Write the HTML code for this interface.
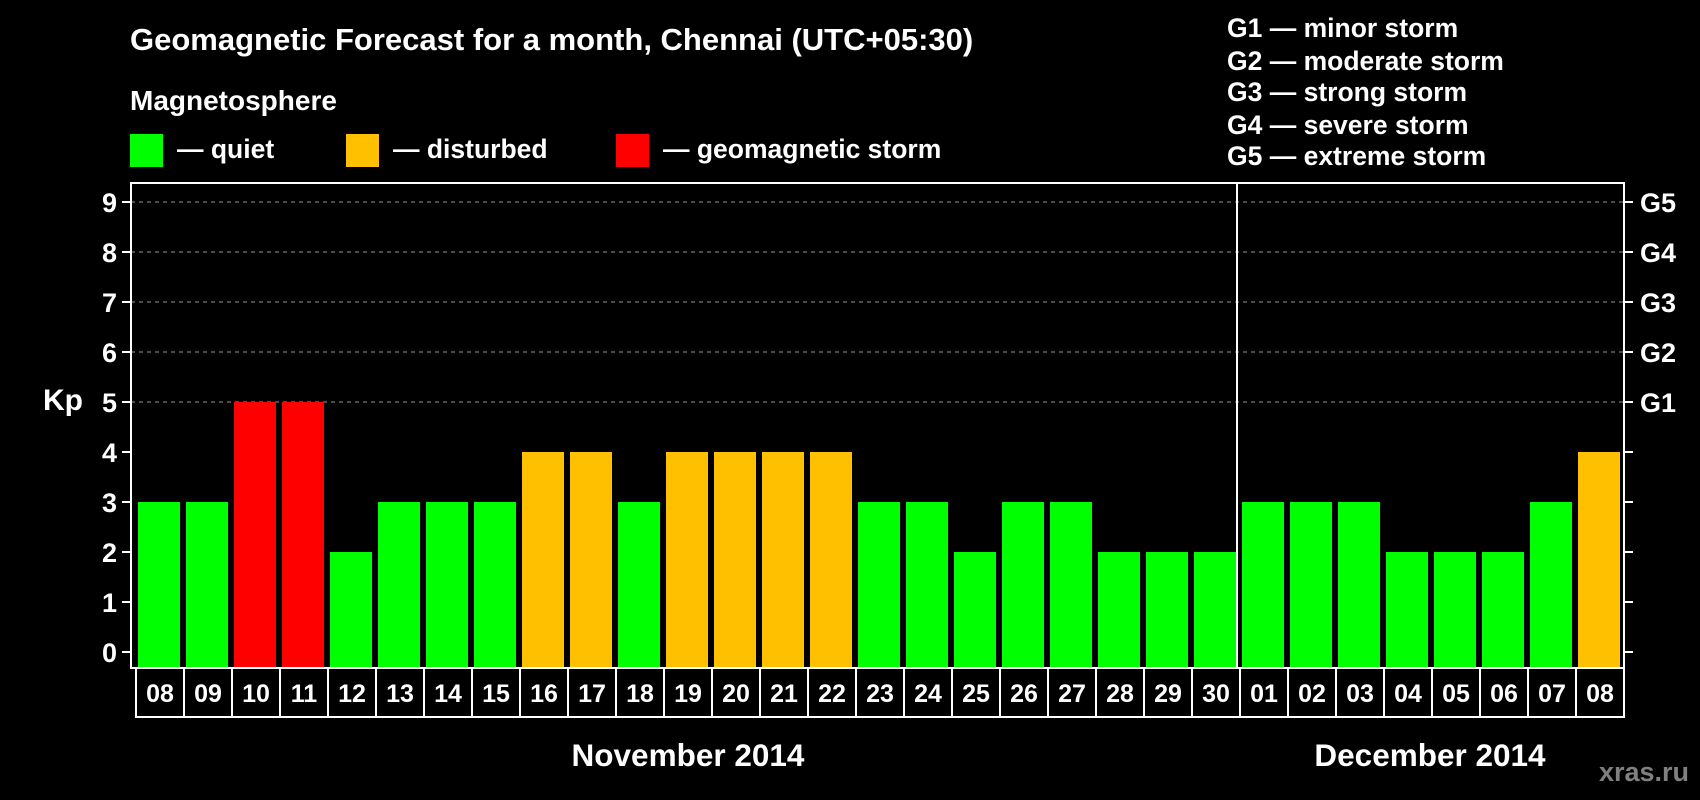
<!DOCTYPE html>
<html><head><meta charset="utf-8"><style>
html,body{margin:0;padding:0;background:#000;}
svg{display:block;font-family:"Liberation Sans",Arial,sans-serif;font-weight:bold;}
</style></head><body>
<svg id="chart" width="1700" height="800" viewBox="0 0 1700 800">
<rect width="1700" height="800" fill="#000"/>
<text x="130" y="50" fill="#fff" font-size="31">Geomagnetic Forecast for a month, Chennai (UTC+05:30)</text>
<text x="130" y="110" fill="#fff" font-size="28">Magnetosphere</text>
<rect x="130" y="134" width="33" height="33" fill="#00ff00"/>
<text x="177" y="158" fill="#fff" font-size="26.5">— quiet</text>
<rect x="346" y="134" width="33" height="33" fill="#ffc000"/>
<text x="393" y="158" fill="#fff" font-size="26.5">— disturbed</text>
<rect x="616" y="134" width="33" height="33" fill="#ff0000"/>
<text x="663" y="158" fill="#fff" font-size="26.5">— geomagnetic storm</text>
<g fill="#fff" font-size="26.5">
<text x="1227" y="37">G1 — minor storm</text>
<text x="1227" y="70">G2 — moderate storm</text>
<text x="1227" y="101">G3 — strong storm</text>
<text x="1227" y="134">G4 — severe storm</text>
<text x="1227" y="165">G5 — extreme storm</text>
</g>
<text x="43" y="410" fill="#fff" font-size="30">Kp</text>
<text x="688" y="766" fill="#fff" font-size="31.5" text-anchor="middle">November 2014</text>
<text x="1430" y="766" fill="#fff" font-size="31.5" text-anchor="middle">December 2014</text>
<text x="1689" y="781" fill="#808080" font-size="27" text-anchor="end">xras.ru</text>
<g id="plot"></g>
</svg>
<script>
const days=["08","09","10","11","12","13","14","15","16","17","18","19","20","21","22","23","24","25","26","27","28","29","30","01","02","03","04","05","06","07","08"];
const kpValues=[3,3,5,5,2,3,3,3,4,4,3,4,4,4,4,3,3,2,3,3,2,2,2,3,3,3,2,2,2,3,4];
const yTicks=[0,1,2,3,4,5,6,7,8,9];
const gLabels=["","","","","","G1","G2","G3","G4","G5"];
const NS="http://www.w3.org/2000/svg";
const plotG=document.getElementById('plot');
const pLeft=131,pRight=1624,pTop=183,pBottom=668,yZero=652,unit=50,xZero=136,pitch=48;
const yPos=v=>yZero-v*unit;
const xPos=i=>xZero+i*pitch;
function mk(t,a){const e=document.createElementNS(NS,t);for(const k in a)e.setAttribute(k,a[k]);plotG.appendChild(e);return e;}
yTicks.forEach(v=>{
  if(v>=5){const g=mk('line',{x1:pLeft,x2:pRight,y1:yPos(v),y2:yPos(v),stroke:'#999','stroke-dasharray':'4,4','stroke-width':1});
    
    }
  const t=mk('line',{x1:pLeft-9,x2:pLeft,y1:yPos(v),y2:yPos(v),stroke:'#fff','stroke-width':2});
  
  
  const t2=mk('line',{x1:pRight,x2:pRight+9,y1:yPos(v),y2:yPos(v),stroke:'#fff','stroke-width':2});
  
  
  const l=mk('text',{x:pLeft-14,y:yPos(v)+10,fill:'#fff','font-size':27,'text-anchor':'end'});l.textContent=v;
  
  
  if(gLabels[v]){const g=mk('text',{x:pRight+16,y:yPos(v)+10,fill:'#fff','font-size':27});g.textContent=gLabels[v];
    
    }
});
kpValues.forEach((v,i)=>{
  const c=v>=5?'#ff0000':(v>=4?'#ffc000':'#00ff00');
  const r=mk('rect',{x:xPos(i)+2,y:yPos(v),width:42,height:pBottom-yPos(v),fill:c});
  
  
  const t=mk('text',{x:xPos(i)+24,y:702,fill:'#fff','font-size':25,'text-anchor':'middle'});t.textContent=days[i];
  
  
});
const frame=mk('rect',{x:pLeft,y:pTop,width:pRight-pLeft,height:pBottom-pTop,fill:'none',stroke:'#fff','stroke-width':2});


const div=mk('line',{x1:xPos(23)-3,x2:xPos(23)-3,y1:pTop,y2:pBottom,stroke:'#fff','stroke-width':2});


const box=mk('rect',{x:xZero,y:pBottom,width:pitch*days.length,height:717-pBottom,fill:'none',stroke:'#fff','stroke-width':2});


for(let i=1;i<days.length;i++){const l=mk('line',{x1:xPos(i),x2:xPos(i),y1:pBottom,y2:717,stroke:'#fff','stroke-width':2});
  
  }
</script>
</body></html>
